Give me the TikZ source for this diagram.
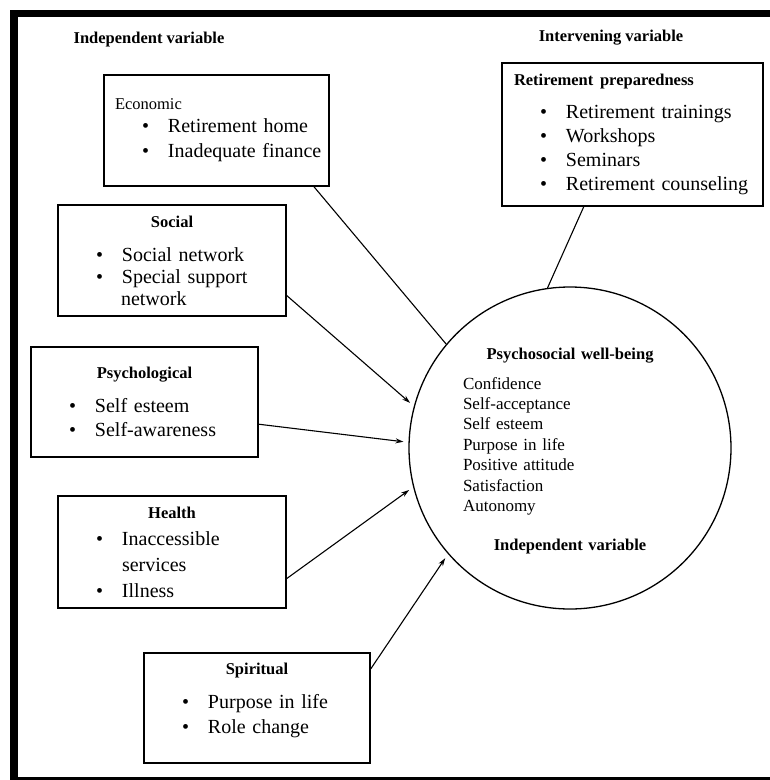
\documentclass[tikz,border=0pt]{standalone}
\usepackage{fontspec}
\setmainfont{Liberation Serif}
\usetikzlibrary{arrows.meta}
\newcommand{\bitem}[1]{\hspace*{38pt}\makebox[26pt][l]{\textbullet}#1}
\newcommand{\ttl}{\fontsize{16.5}{20}\selectfont\bfseries}
\newcommand{\lst}[1]{\hspace*{3pt}#1}

\begin{document}
\begin{tikzpicture}[
        x=1pt, y=-1pt,
        every node/.style={font=\fontsize{20}{25}\selectfont},
        factor/.style={rectangle, draw, line width=1.6pt, align=left, inner xsep=0pt, inner ysep=0pt},
        header/.style={font=\ttl},
        link/.style={line width=1.1pt},
        effect/.style={link, -{Stealth[length=8pt,width=5pt]}, shorten >=5pt}
    ]
    \useasboundingbox (0,0) rectangle (770,780);
    \clip (0,0) rectangle (770,780);
    % outer frame
    \draw[line width=7.5pt] (14,13.5) rectangle (800,781);

    \node[header] (indeplabel) at (149,40) {Independent variable};
    \node[header] (intervlabel) at (611,38) {Intervening variable};

    \node[factor, text width=225pt, minimum height=111pt] (economic) at (216.5,130.5)
        {\hspace*{11pt}{\fontsize{16.5}{20}\selectfont Economic}\\[-2pt]
         \bitem{Retirement home}\\
         \bitem{Inadequate finance}};
    \node[factor, text width=261pt, minimum height=143pt] (prepared) at (632.5,134.5)
        {\hspace*{12pt}{\ttl Retirement preparedness}\\[8pt]
         \bitem{Retirement trainings}\\[-1pt]
         \bitem{Workshops}\\[-1pt]
         \bitem{Seminars}\\[-1pt]
         \bitem{Retirement counseling}};
    \node[factor, text width=228pt, minimum height=111pt, font=\fontsize{20}{22}\selectfont] (social) at (172,260.5)
        {\makebox[\linewidth]{\ttl Social}\\[12pt]
         \bitem{Social network}\\
         \bitem{Special support}\\
         \hspace*{63pt}network};
    \node[factor, text width=227pt, minimum height=110pt] (psycho) at (144.5,402)
        {\makebox[\linewidth]{\ttl Psychological}\\[9pt]
         \bitem{Self esteem}\\[-1pt]
         \bitem{Self-awareness}};
    \node[factor, text width=228pt, minimum height=112pt] (health) at (172,552)
        {\makebox[\linewidth]{\ttl Health}\\[2pt]
         \bitem{Inaccessible}\\[1pt]
         \hspace*{64pt}services\\[1pt]
         \bitem{Illness}};
    \node[factor, text width=226pt, minimum height=110pt] (spiritual) at (257,708)
        {\makebox[\linewidth]{\ttl Spiritual}\\[9pt]
         \bitem{Purpose in life}\\
         \bitem{Role change}\\[-5pt]
         \mbox{}};

    \node[circle, draw, line width=1.3pt, minimum size=322pt, text width=220pt, align=left,
          inner sep=0pt, font=\fontsize{17}{20.5}\selectfont] (wellbeing) at (570,448)
        {\mbox{}\\[-3pt]
         \makebox[\linewidth]{\ttl Psychosocial well-being}\\[9.5pt]
         \lst{Confidence}\\
         \lst{Self-acceptance}\\
         \lst{Self esteem}\\
         \lst{Purpose in life}\\
         \lst{Positive attitude}\\
         \lst{Satisfaction}\\
         \lst{Autonomy}\\[18.5pt]
         \makebox[\linewidth]{\ttl Independent variable}};

    \draw[link] (economic.-30) -- (wellbeing.140);
    \draw[link] (prepared.236) -- (wellbeing.98);
    \draw[effect] (social.-17) -- (wellbeing.165);
    \draw[effect] (psycho.-11) -- (wellbeing.178);
    \draw[effect] (health.-13) -- (wellbeing.194);
    \draw[effect] (spiritual.19.5) -- (wellbeing.221);
\end{tikzpicture}
\end{document}
